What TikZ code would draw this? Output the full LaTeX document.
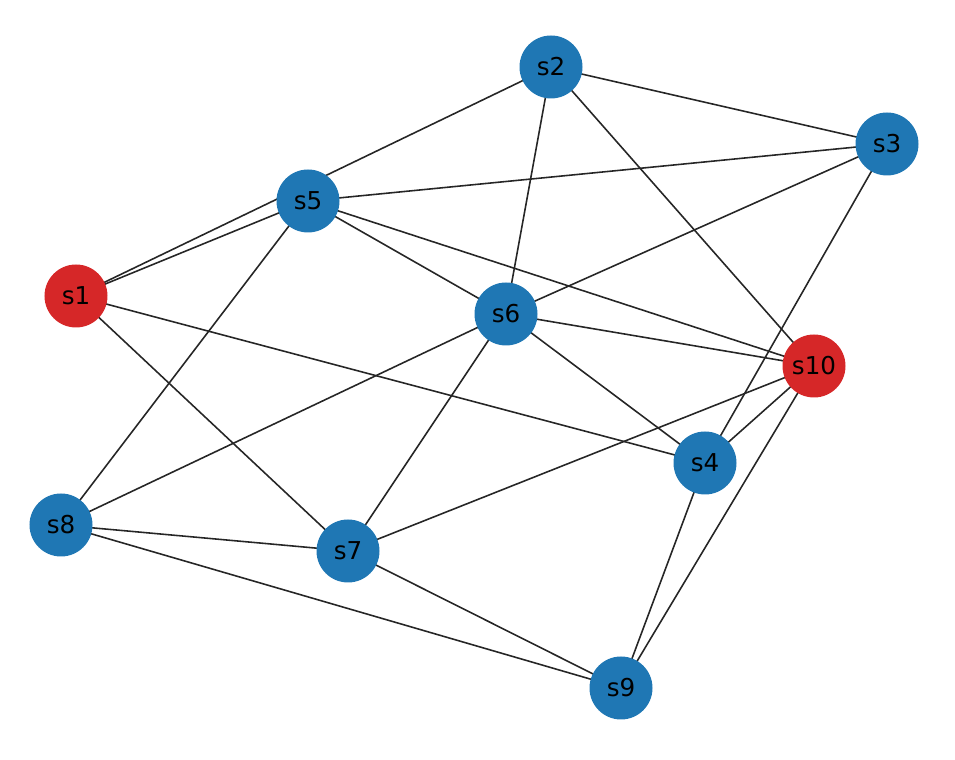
\documentclass[tikz,border=0pt]{standalone}
\usepackage{fontspec}
\setmainfont{DejaVu Sans}
\usetikzlibrary{backgrounds}
\definecolor{nxblue}{HTML}{1F77B4}
\definecolor{nxred}{HTML}{D62728}

\begin{document}
\begin{tikzpicture}[x=1cm, y=-1cm, font=\fontsize{7}{8}\selectfont,
      bn/.style={circle, fill=nxblue, inner sep=0pt, minimum size=.63cm},
      rn/.style={circle, fill=nxred, inner sep=0pt, minimum size=.63cm},
      ed/.style={draw=black!85, line width=.45pt}]
      \useasboundingbox (0,0) rectangle (9.55,7.60);
      \node[rn] (s1) at (.76,2.96) {s1};
      \node[bn] (s2) at (5.51,.67) {s2};
      \node[bn] (s3) at (8.87,1.44) {s3};
      \node[bn] (s4) at (7.05,4.63) {s4};
      \node[bn] (s5) at (3.08,2.01) {s5};
      \node[bn] (s6) at (5.06,3.14) {s6};
      \node[bn] (s7) at (3.48,5.51) {s7};
      \node[bn] (s8) at (.61,5.25) {s8};
      \node[bn] (s9) at (6.21,6.88) {s9};
      \node[rn] (s10) at (8.14,3.66) {s10};

      \begin{scope}[on background layer]
      \foreach \a/\b in {s1/s2, s1/s5, s1/s4, s1/s7, s2/s3, s2/s6, s2/s10,
                         s3/s5, s3/s6, s3/s4, s5/s6, s5/s10, s5/s8,
                         s6/s10, s6/s4, s6/s7, s6/s8, s10/s4, s10/s7, s10/s9,
                         s4/s9, s8/s7, s8/s9, s7/s9}
        \draw[ed] (\a.center) -- (\b.center);
      \end{scope}
\end{tikzpicture}
\end{document}
